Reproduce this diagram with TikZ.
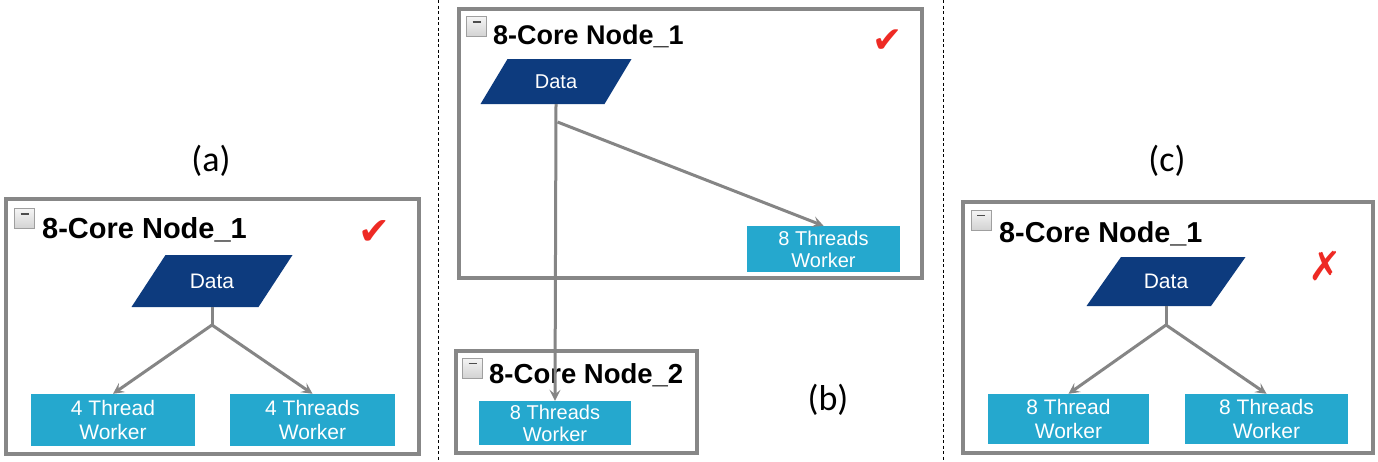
\documentclass[tikz,border=0pt]{standalone}
\usepackage{fontspec}
\setmainfont{Liberation Sans}
\newfontfamily\labfont{Carlito}
\newfontfamily\symfont{DejaVu Sans}
\usetikzlibrary{arrows.meta}
\definecolor{datablue}{HTML}{0D3B7E}
\definecolor{workcyan}{HTML}{25A8CE}
\definecolor{boxgray}{HTML}{878787}
\definecolor{conngray}{HTML}{858585}
\definecolor{markred}{HTML}{EE2A24}
\tikzset{
  groupbox/.style={draw=boxgray, line width=3.3pt, fill=white, inner sep=0pt},
  titletext/.style={anchor=base west, inner sep=0pt, font=\bfseries\fontsize{#1}{#1}\selectfont},
  minusbox/.style={draw=gray!75, line width=0.9pt, top color=gray!8, bottom color=gray!35, minimum size=20pt, inner sep=0pt},
  datatext/.style={inner sep=0pt, text=white, font=\fontsize{#1}{#1}\selectfont},
  worker/.style={fill=workcyan, text=white, align=center, inner sep=0pt},
  wfa/.style={font=\fontsize{21}{24}\selectfont},
  wfb/.style={font=\fontsize{20}{22}\selectfont},
  conn/.style={draw=conngray, line width=3pt},
  arr/.style={conn, -{Stealth[length=11pt, width=11pt, inset=4.5pt]}},
  sublabel/.style={font=\labfont\fontsize{36}{36}\selectfont},
  mark/.style={text=markred, inner sep=0pt, font=\symfont\fontsize{#1}{#1}\selectfont},
  sep/.style={draw=black, line width=0.8pt, dash pattern=on 3pt off 2.5pt}
}
% #1 name, #2 cx, #3 cy, #4 half avg width, #5 half height, #6 slant shift, #7 font size
\newcommand\mydata[7]{%
  \fill[datablue] (#2-#4+#6,#3-#5) -- (#2+#4+#6,#3-#5) -- (#2+#4-#6,#3+#5) -- (#2-#4-#6,#3+#5) -- cycle;
  \node[datatext=#7, minimum width=2*#4, minimum height=2*#5] (#1) at (#2,#3) {Data};}
\newcommand\myminus[3]{%
  \node[minusbox] (#1) at (#2,#3) {};
  \draw[black!70, line width=1.6pt] ([xshift=-4pt,yshift=-6pt]#1.north) -- ([xshift=4pt,yshift=-6pt]#1.north);}
\begin{document}
\begin{tikzpicture}[x=1pt, y=-1pt]
\useasboundingbox[fill=white] (0,0) rectangle (1378,461);

% separators
\coordinate (s1t) at (438,0); \coordinate (s1b) at (438,461);
\coordinate (s2t) at (943,0); \coordinate (s2b) at (943,461);
\draw[sep] (s1t) -- (s1b);
\draw[sep] (s2t) -- (s2b);

%% ---------- (a) ----------
\node[sublabel] (la) at (211,161) {(a)};
\node[groupbox, minimum width=413pt, minimum height=255pt] (ga) at (212.5,326.5) {};
\myminus{ma}{24.5}{218.5}
\node[titletext=29] (ta) at (42,238) {8-Core Node\_1};
\node[mark=38] (cka) at (374,233) {✔};
\mydata{da}{212}{281}{63.5}{26}{17}{21}
\coordinate (ja) at (212,325);
\node[worker, wfa, minimum width=164pt, minimum height=52pt] (wa1) at (113,420) {4 Thread\\Worker};
\node[worker, wfa, minimum width=165pt, minimum height=52pt] (wa2) at (312.5,420) {4 Threads\\Worker};
\draw[conn] (da.south) -- (ja);
\draw[arr] (ja) -- (wa1.north);
\draw[arr] (ja) -- (wa2.north);

%% ---------- (b) ----------
\node[groupbox, minimum width=463pt, minimum height=269pt] (gb1) at (690.5,143.5) {};
\myminus{mb1}{476.5}{26.5}
\node[titletext=27] (tb1) at (493,44) {8-Core Node\_1};
\node[mark=36] (ckb) at (888,41) {✔};
\mydata{db}{556}{81.5}{62}{22.5}{13.5}{20}
\node[worker, wfb, minimum width=153pt, minimum height=46pt] (wb1) at (823.5,249) {8 Threads\\Worker};

\node[groupbox, minimum width=241pt, minimum height=102pt] (gb2) at (576.5,402) {};
\myminus{mb2}{472.5}{368}
\node[titletext=27.5] (tb2) at (489,383) {8-Core Node\_2};
\node[worker, wfb, minimum width=152pt, minimum height=44pt] (wb2) at (555,423) {8 Threads\\Worker};
\node[sublabel] (lb) at (828,400) {(b)};

\coordinate (jb) at (557.5,122);
\draw[arr] (db.south) -- (wb2.north);
\draw[arr] (jb) -- (wb1.north);

%% ---------- (c) ----------
\node[sublabel] (lc) at (1167,161) {(c)};
\node[groupbox, minimum width=410pt, minimum height=251pt] (gc) at (1168,327.5) {};
\myminus{mc}{981}{220}
\node[titletext=28.8] (tc) at (999,242) {8-Core Node\_1};
\node[mark=40] (ckc) at (1325,266) {✗};
\mydata{dc}{1166}{281.5}{62.25}{24.5}{17.25}{21}
\coordinate (jc) at (1166,325);
\node[worker, wfa, minimum width=161pt, minimum height=50pt] (wc1) at (1068.5,419) {8 Thread\\Worker};
\node[worker, wfa, minimum width=163pt, minimum height=50pt] (wc2) at (1266.5,419) {8 Threads\\Worker};
\draw[conn] (dc.south) -- (jc);
\draw[arr] (jc) -- (wc1.north);
\draw[arr] (jc) -- (wc2.north);
\end{tikzpicture}
\end{document}
